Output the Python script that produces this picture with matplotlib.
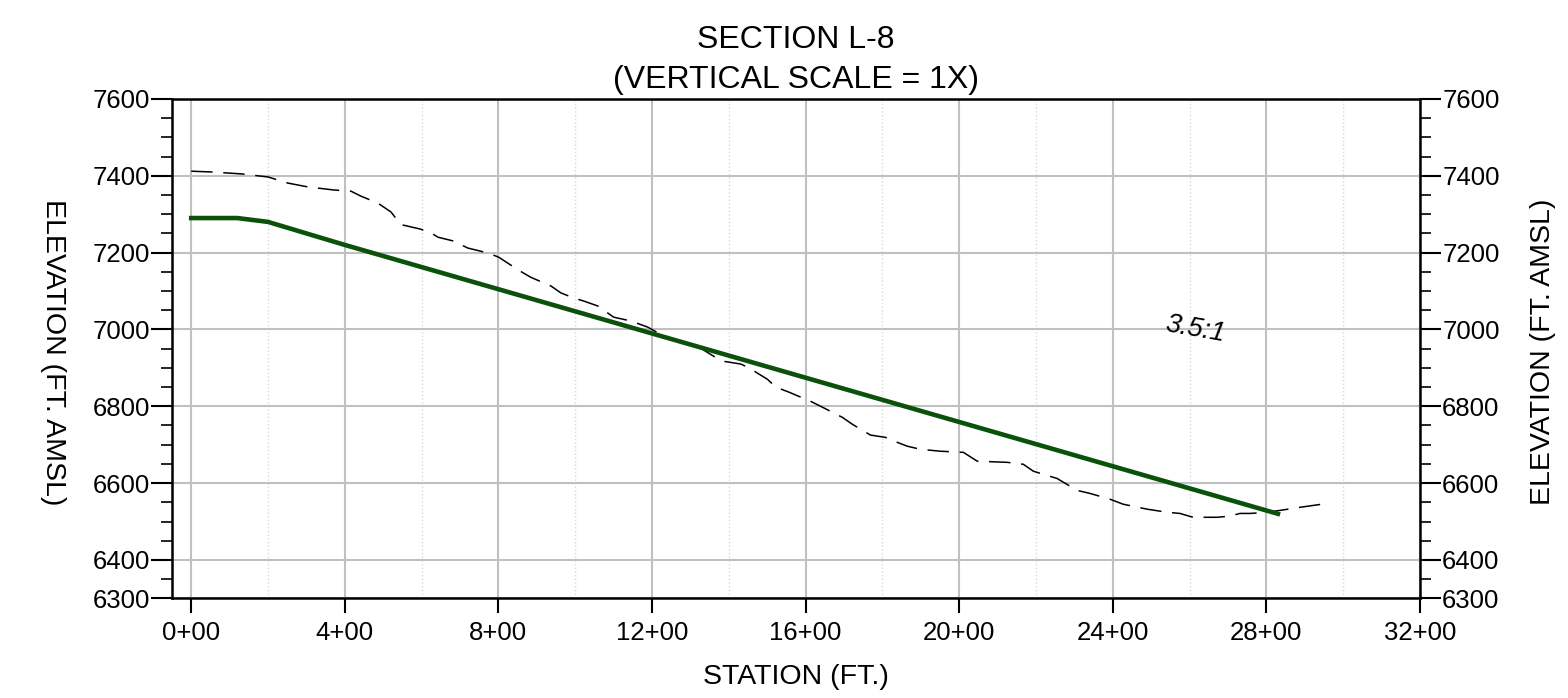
import matplotlib.pyplot as plt
from matplotlib.ticker import MultipleLocator, FixedLocator, FuncFormatter

plt.rcParams['font.family'] = ['Liberation Sans', 'DejaVu Sans']

# design grade (3.5:1)
design_sta = [0, 120, 200, 400, 2830]
design_elev = [7290, 7290, 7280, 7220, 6520]

# existing ground
ground_sta = [0, 52, 130, 200, 252, 304, 372, 416, 442, 486, 520, 546, 598, 630, 643,
              684, 720, 773, 801, 853, 884, 937, 963, 996, 1022, 1059, 1100, 1145,
              1189, 1230, 1275, 1309, 1361, 1387, 1431, 1449, 1475, 1501, 1522, 1556,
              1613, 1639, 1696, 1722, 1769, 1808, 1839, 1865, 1899, 1951, 2011, 2047,
              2125, 2167, 2193, 2219, 2255, 2307, 2341, 2393, 2427, 2490, 2542, 2575,
              2609, 2672, 2705, 2731, 2758, 2802, 2836, 2888, 2958]
ground_elev = [7412, 7410, 7405, 7397, 7381, 7371, 7363, 7360, 7347, 7329, 7306, 7273,
               7261, 7248, 7240, 7230, 7212, 7199, 7188, 7154, 7136, 7113, 7095, 7082,
               7074, 7061, 7032, 7022, 7006, 6983, 6967, 6962, 6930, 6917, 6910, 6902,
               6886, 6870, 6850, 6837, 6813, 6800, 6771, 6753, 6725, 6719, 6706, 6696,
               6688, 6683, 6680, 6657, 6654, 6649, 6631, 6623, 6612, 6581, 6573, 6558,
               6545, 6532, 6524, 6521, 6511, 6511, 6514, 6521, 6521, 6524, 6529, 6537,
               6547]

y_ticks = [6300, 6400, 6600, 6800, 7000, 7200, 7400, 7600]


def station_fmt(v, pos):
    v = int(round(v))
    return f"{v // 100}+{v % 100:02d}"


fig = plt.figure(figsize=(15.68, 6.98), dpi=100)
ax = fig.add_axes([0.1097, 0.1428, 0.7959, 0.7154])

ax.plot(ground_sta, ground_elev, color='black', lw=1.1, dashes=(14, 7), zorder=3)
ax.plot(design_sta, design_elev, color='#0a520a', lw=3.3, zorder=4)

ax.set_xlim(-50, 3200)
ax.set_ylim(6300, 7600)

ax.xaxis.set_major_locator(MultipleLocator(400))
ax.xaxis.set_minor_locator(MultipleLocator(200))
ax.xaxis.set_major_formatter(FuncFormatter(station_fmt))
ax.yaxis.set_major_locator(FixedLocator(y_ticks))
ax.yaxis.set_minor_locator(MultipleLocator(50))

ax.grid(which='major', axis='x', color='#c0c0c0', lw=1.5)
ax.grid(which='minor', axis='x', color='#d8d8d8', lw=1.0, ls=':')
ax.grid(which='major', axis='y', color='#c0c0c0', lw=1.5)

ax.tick_params(axis='x', which='major', direction='out', length=11, width=1.5,
               labelsize=18.5, pad=5)
ax.tick_params(axis='x', which='minor', length=0)
ax.tick_params(axis='y', which='major', direction='out', length=15, width=1.5,
               labelsize=18.5, right=True, labelright=True, pad=1)
ax.tick_params(axis='y', which='minor', direction='out', length=8, width=1.2,
               right=True)

for s in ax.spines.values():
    s.set_linewidth(1.8)

ax.set_title("SECTION L-8\n(VERTICAL SCALE = 1X)", fontsize=23, pad=8, linespacing=1.45)
fig.text(0.5077, 0.030, "STATION (FT.)", fontsize=20.5, ha='center', va='center')
fig.text(0.034, 0.496, "ELEVATION (FT. AMSL)", fontsize=20.5, rotation=-90,
         ha='center', va='center')
fig.text(0.984, 0.496, "ELEVATION (FT. AMSL)", fontsize=20.5, rotation=90,
         ha='center', va='center')

ax.text(2614, 7000, "3.5:1", fontsize=19.5, style='italic', rotation=-10,
        ha='center', va='center')

fig.savefig("out.png", dpi=100)
